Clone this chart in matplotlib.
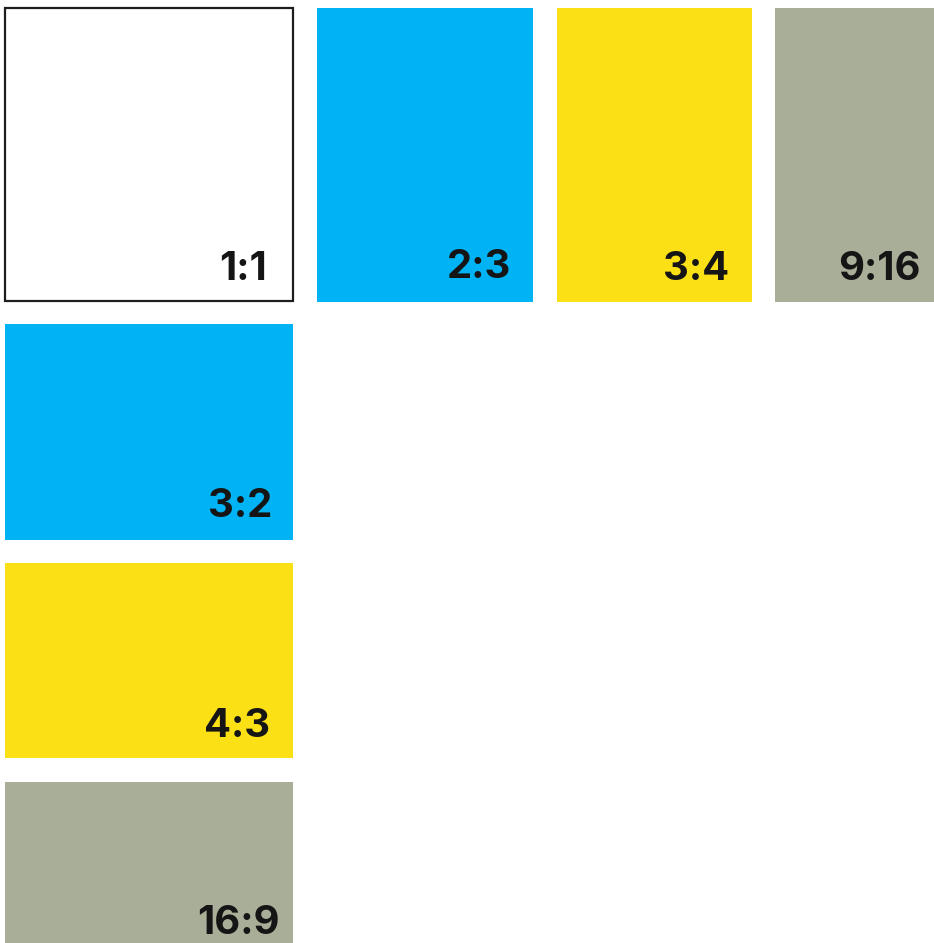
import matplotlib
matplotlib.use("Agg")
import matplotlib.pyplot as plt
from matplotlib.patches import Rectangle

# Data
labels = ["1:1", "2:3", "3:4", "9:16", "3:2", "4:3", "16:9"]
fill_colors = ["#FFFFFF", "#00B3F4", "#FBE015", "#A9AE98", "#00B3F4", "#FBE015", "#A9AE98"]
edge_colors = ["#1E1E1E", "none", "none", "none", "none", "none", "none"]

# Layout (pixel space): x0, y0, x1, y1 and label anchor (right x, baseline y)
boxes = [
    (5, 8, 293, 301),
    (317, 8, 533, 302),
    (557, 8, 752, 302),
    (775, 8, 944, 302),
    (5, 324, 293, 540),
    (5, 563, 293, 758),
    (5, 782, 293, 958),
]
anchors = [
    (267, 280),
    (511, 278),
    (729, 280),
    (921, 280),
    (272, 517),
    (270, 737),
    (280, 934),
]

W, H = 934, 943
fig = plt.figure(figsize=(W / 100, H / 100), dpi=100)
ax = fig.add_axes([0, 0, 1, 1])
ax.set_xlim(0, W)
ax.set_ylim(H, 0)
ax.axis("off")

for lab, fc, ec, (x0, y0, x1, y1), (tx, ty) in zip(labels, fill_colors, edge_colors, boxes, anchors):
    ax.add_patch(Rectangle((x0, y0), x1 - x0, y1 - y0, facecolor=fc,
                           edgecolor=ec, linewidth=1.6 if ec != "none" else 0))
    ax.text(tx, ty, lab, ha="right", va="baseline", fontsize=28.8,
            fontweight="bold", family=["Inter", "Liberation Sans", "DejaVu Sans"], color="#151515")

fig.savefig("out.png", dpi=100)
